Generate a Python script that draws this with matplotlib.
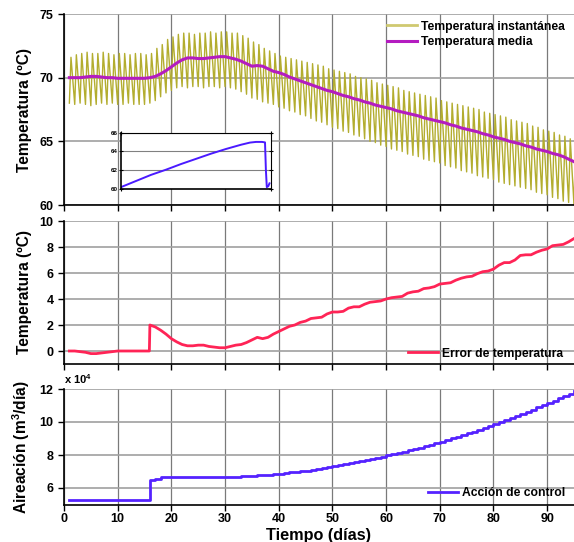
import matplotlib
matplotlib.use("Agg")
import matplotlib.pyplot as plt
import numpy as np

plt.rcParams['font.family'] = ['Liberation Sans', 'DejaVu Sans']
plt.rcParams['font.weight'] = 'bold'
plt.rcParams['axes.labelweight'] = 'bold'
plt.rcParams['mathtext.fontset'] = 'custom'
plt.rcParams['mathtext.rm'] = 'Liberation Sans:bold'
plt.rcParams['mathtext.bf'] = 'Liberation Sans:bold'
plt.rcParams['mathtext.default'] = 'bf'

# ---------------- data ----------------
days = list(range(1, 96))

temp_peak = [71.6, 71.8, 71.9, 72.0, 71.9, 71.9, 72.0, 71.9, 71.8, 71.9,
             71.9, 71.8, 71.9, 71.9, 71.8, 71.9, 72.3, 72.6, 73.0, 73.2,
             73.4, 73.5, 73.5, 73.4, 73.5, 73.5, 73.6, 73.5, 73.6, 73.6,
             73.5, 73.5, 73.3, 73.1, 72.8, 72.6, 72.3, 72.1, 71.9, 71.7,
             71.6, 71.5, 71.4, 71.3, 71.2, 71.1, 71.0, 70.9, 70.7, 70.6,
             70.5, 70.4, 70.3, 70.1, 70.0, 69.9, 69.8, 69.6, 69.5, 69.4,
             69.3, 69.2, 69.0, 68.9, 68.8, 68.7, 68.6, 68.5, 68.4, 68.2,
             68.1, 68.0, 67.9, 67.8, 67.7, 67.6, 67.5, 67.3, 67.2, 67.1,
             67.0, 66.9, 66.7, 66.6, 66.5, 66.4, 66.2, 66.1, 65.9, 65.8,
             65.7, 65.5, 65.4, 65.2, 65.1]

temp_trough = [68.0, 67.9, 68.0, 67.9, 67.8, 67.9, 68.0, 67.9, 68.0, 67.9,
               67.9, 68.0, 67.9, 67.9, 67.9, 68.0, 68.2, 68.5, 68.8, 69.0,
               69.2, 69.3, 69.2, 69.3, 69.3, 69.2, 69.3, 69.3, 69.2, 69.3,
               69.2, 69.1, 68.9, 68.7, 68.4, 68.3, 68.1, 68.0, 67.9, 67.7,
               67.6, 67.4, 67.3, 67.1, 67.0, 66.8, 66.6, 66.5, 66.3, 66.1,
               66.0, 65.8, 65.7, 65.5, 65.4, 65.2, 65.0, 64.9, 64.7, 64.6,
               64.4, 64.3, 64.2, 64.0, 63.9, 63.8, 63.6, 63.5, 63.4, 63.3,
               63.1, 63.0, 62.9, 62.7, 62.6, 62.5, 62.3, 62.2, 62.1, 62.0,
               61.8, 61.7, 61.6, 61.5, 61.4, 61.3, 61.2, 61.0, 60.9, 60.8,
               60.6, 60.5, 60.3, 60.2, 60.0]

temp_mean = [70.0, 70.0, 70.0, 70.05, 70.1, 70.1, 70.05, 70.0, 70.0, 69.95,
             69.95, 69.95, 69.95, 69.95, 69.95, 70.0, 70.1, 70.3, 70.55, 70.85,
             71.15, 71.4, 71.55, 71.55, 71.5, 71.5, 71.55, 71.6, 71.65, 71.65,
             71.55, 71.45, 71.3, 71.1, 70.9, 70.95, 70.9, 70.7, 70.5, 70.4,
             70.25, 70.05, 69.9, 69.75, 69.6, 69.45, 69.3, 69.15, 69.0, 68.9,
             68.75, 68.6, 68.5, 68.35, 68.25, 68.1, 68.0, 67.85, 67.75, 67.65,
             67.55, 67.4, 67.3, 67.2, 67.1, 67.0, 66.85, 66.75, 66.65, 66.55,
             66.45, 66.3, 66.2, 66.05, 65.95, 65.85, 65.75, 65.6, 65.5, 65.35,
             65.25, 65.15, 65.0, 64.9, 64.8, 64.65, 64.55, 64.4, 64.3, 64.2,
             64.05, 63.95, 63.8, 63.6, 63.4]

error_days = list(range(1, 16)) + [15.9, 16.0] + list(range(17, 96))
error_vals = [0.0, 0.0, -0.05, -0.1, -0.2, -0.2, -0.15, -0.1, -0.05, 0.0,
              0.0, 0.0, 0.0, 0.0, 0.0, 0.0, 2.0,
              1.85, 1.6, 1.3, 0.95, 0.7, 0.5, 0.4, 0.4, 0.45, 0.45, 0.35, 0.3, 0.25, 0.25,
              0.35, 0.45, 0.5, 0.65, 0.85, 1.05, 0.95, 1.05, 1.3, 1.5,
              1.7, 1.9, 2.0, 2.2, 2.3, 2.5, 2.55, 2.6, 2.85, 3.0,
              3.0, 3.05, 3.3, 3.4, 3.4, 3.6, 3.75, 3.8, 3.85, 4.0,
              4.1, 4.15, 4.2, 4.45, 4.55, 4.6, 4.8, 4.85, 4.95, 5.15,
              5.2, 5.25, 5.45, 5.6, 5.7, 5.75, 5.95, 6.1, 6.15, 6.3,
              6.6, 6.8, 6.8, 7.0, 7.35, 7.4, 7.4, 7.6, 7.75, 7.85,
              8.1, 8.15, 8.2, 8.4, 8.65]

aeration = [52700] * 15 + [64800, 65500] + [66500] * 14 + \
    [66800, 67000, 67200, 67400, 67600, 67800, 68000, 68300, 68600,
     69000, 69400, 69800, 70200, 70600, 71100, 71600, 72100, 72600, 73200,
     73800, 74400, 75000, 75600, 76200, 76900, 77600, 78300, 79000, 79800,
     80500, 81300, 82100, 82900, 83700, 84500, 85400, 86300, 87200, 88100,
     89100, 90100, 91100, 92100, 93100, 94200, 95300, 96400, 97500, 98700,
     99900, 101100, 102300, 103600, 104900, 106200, 107500, 108800, 110100, 111500,
     112900, 114300, 115700, 117200, 118700]

inset_x = [0.0, 0.1, 0.2, 0.3, 0.4, 0.5, 0.6, 0.7, 0.8, 0.86, 0.9, 0.94,
           0.96, 0.963, 0.966, 0.972, 0.982, 0.99]
inset_y = [60.2, 60.85, 61.5, 62.05, 62.65, 63.2, 63.75, 64.25, 64.7, 64.93,
           65.0, 65.0, 64.95, 63.5, 62.0, 60.2, 60.3, 60.6]

# ---------------- figure ----------------
W, H = 574, 542
fig = plt.figure(figsize=(W / 100, H / 100), dpi=100)

def fr(x0, ytop, x1, ybot):
    return [x0 / W, 1 - ybot / H, (x1 - x0) / W, (ybot - ytop) / H]

ax1 = fig.add_axes(fr(64, 14, 574, 205))
ax2 = fig.add_axes(fr(64, 221, 574, 364), sharex=ax1)
ax3 = fig.add_axes(fr(64, 389, 574, 504.5), sharex=ax1)

c_inst = '#b3ad2f'
c_mean = '#b41cc0'
c_err = '#ff2456'
c_ctrl = '#5522ff'

# sawtooth of instantaneous temperature built from daily troughs/peaks
tx, ty = [], []
for d, lo, hi in zip(days, temp_trough, temp_peak):
    tx += [d, d + 0.3]
    ty += [lo, hi]
ax1.plot(tx, ty, color=c_inst, lw=1.0, label='Temperatura instantánea')
ax1.plot(days, temp_mean, color=c_mean, lw=2.2, label='Temperatura media')

ax2.plot(error_days, error_vals, color=c_err, lw=2.0, label='Error de temperatura')

aer = np.array(aeration) / 1e4
ax3.plot(days, aer, color=c_ctrl, lw=2.0, drawstyle='steps-post',
         label='Acción de control')

ax1.set_xlim(0, 95)
ax1.set_ylim(60, 75)
ax1.set_yticks([60, 65, 70, 75])
ax2.set_ylim(-1, 10)
ax2.set_yticks([0, 2, 4, 6, 8, 10])
ax3.set_ylim(5, 12)
ax3.set_yticks([6, 8, 10, 12])
ax3.set_xticks(range(0, 100, 10))

for ax in (ax1, ax2, ax3):
    ax.grid(True, axis='x', color='#7a7a7a', lw=0.9)
    ax.grid(True, axis='y', color='#a0a0a0', lw=1.2)
    ax.set_axisbelow(True)
    for s in ('top', 'right'):
        ax.spines[s].set_visible(False)
    ax.spines['left'].set_linewidth(1.2)
    ax.spines['bottom'].set_linewidth(1.2)
    ax.tick_params(direction='out', length=4, width=1, labelsize=9)
    for lab in ax.get_xticklabels() + ax.get_yticklabels():
        lab.set_fontweight('bold')
    ax.yaxis.set_label_coords(-0.062, 0.5)

ax1.tick_params(axis='x', labelbottom=False)
ax2.tick_params(axis='x', labelbottom=False)
ax3.tick_params(axis='x', pad=2)

ax1.set_ylabel('Temperatura (ºC)', fontsize=11.2, fontweight='bold')
ax2.set_ylabel('Temperatura (ºC)', fontsize=11.2, fontweight='bold')
ax3.set_ylabel('Aireación (m$^3$/día)', fontsize=11.2, fontweight='bold')
ax3.set_xlabel('Tiempo (días)', fontsize=11.7, fontweight='bold')
ax3.xaxis.set_label_coords(0.5, -0.2)

ax3.text(0.0, 1.03, 'x 10$^4$', transform=ax3.transAxes, fontsize=8,
         fontweight='bold', ha='left', va='bottom')

leg_kw = dict(frameon=False, fontsize=8.7, borderpad=0, borderaxespad=0,
              handlelength=2.5, handletextpad=0.3, labelspacing=0.3)
l1 = ax1.legend(loc='upper left', bbox_to_anchor=((387 - 64) / 510, 0.965), **leg_kw)
l1.get_lines()[0].set_color('#cfc970')
l1.get_lines()[0].set_linewidth(2.0)
for t in l1.get_texts():
    t.set_fontweight('bold')
l2 = ax2.legend(loc='lower left', bbox_to_anchor=((408 - 64) / 510, 0.03), **leg_kw)
for t in l2.get_texts():
    t.set_fontweight('bold')
l3 = ax3.legend(loc='lower left', bbox_to_anchor=((428 - 64) / 510, 0.045), **leg_kw)
for t in l3.get_texts():
    t.set_fontweight('bold')

# inset
axi = fig.add_axes(fr(121, 132.5, 271, 189))
axi.plot(inset_x, inset_y, color='#4a1aff', lw=1.4)
axi.set_xlim(0, 1)
axi.set_ylim(60, 66)
axi.set_yticks([60, 62, 64, 66])
axi.set_xticks([0, 1])
axi.set_xticklabels([])
axi.grid(True, axis='y', color='#808080', lw=0.8)
axi.tick_params(direction='inout', length=3, width=0.8, labelsize=4.5, pad=1,
                right=True, top=True)
for lab in axi.get_yticklabels():
    lab.set_fontweight('bold')
for s in axi.spines.values():
    s.set_linewidth(0.8)
axi.spines['left'].set_linewidth(1.2)
axi.spines['bottom'].set_linewidth(1.2)

fig.savefig('out.png', dpi=100)
